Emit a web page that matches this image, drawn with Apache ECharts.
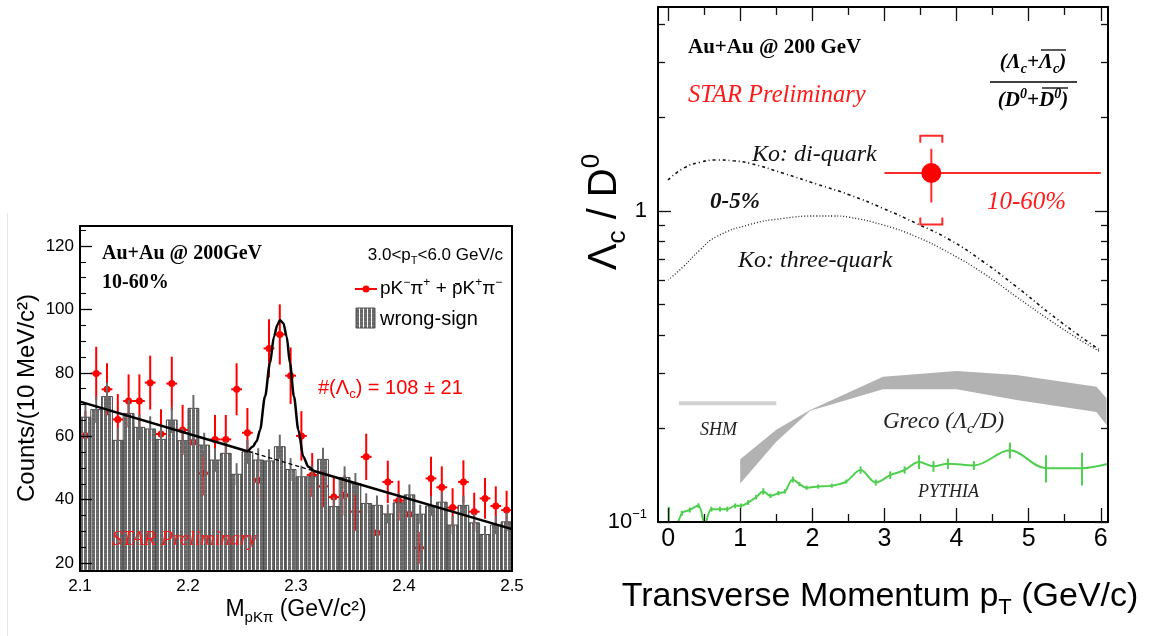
<!DOCTYPE html>
<html><head><meta charset="utf-8">
<script src="https://cdn.jsdelivr.net/npm/echarts@6/dist/echarts.min.js"></script>
<style>html,body{margin:0;padding:0;background:#fff}#c{width:1156px;height:636px}</style>
</head><body><div id="c"></div><script>
// ---------------- LEFT PANEL DATA ----------------
const massBins = [2.105,2.115,2.125,2.135,2.145,2.155,2.165,2.175,2.185,2.195,
                  2.205,2.215,2.225,2.235,2.245,2.255,2.265,2.275,2.285,2.295,
                  2.305,2.315,2.325,2.335,2.345,2.355,2.365,2.375,2.385,2.395,
                  2.405,2.415,2.425,2.435,2.445,2.455,2.465,2.475,2.485,2.495];
const binHalfWidth = 0.005;
const wrongSign = [66.0,68.4,72.5,58.7,67.2,62.8,62.3,59.0,65.1,58.6,
                   68.8,57.2,52.5,54.6,48.0,55.1,52.5,52.2,56.7,49.5,
                   47.2,47.2,52.7,37.8,47.0,45.0,38.8,38.2,35.5,39.0,
                   41.5,35.4,38.0,39.2,32.0,38.2,32.7,29.0,32.0,33.0];
const wrongSignErr = [4.2,4.2,4.4,3.9,4.2,4.0,4.0,3.9,4.1,3.9,
                      4.2,3.9,3.7,3.8,3.5,3.8,3.7,3.7,3.8,3.6,
                      3.5,3.5,3.7,3.1,3.5,3.4,3.2,3.1,3.0,3.2,
                      3.3,3.0,3.1,3.2,2.9,3.1,2.9,2.7,2.9,2.9];
const rightSign = [60.2,79.8,74.8,65.3,71.1,71.1,76.9,60.7,76.6,62.0,
                   58.1,48.3,59.0,59.0,74.8,61.1,46.1,87.7,92.1,79.1,
                   60.1,47.8,44.2,40.8,41.4,36.2,53.5,29.6,45.6,39.7,
                   35.4,24.8,46.7,43.9,37.5,45.6,36.2,40.4,38.0,36.7];
const rightSignErr = [7.8,8.4,8.2,8.0,8.4,8.4,8.5,7.8,8.5,7.9,
                      7.6,7.0,7.7,7.7,8.2,7.8,6.8,9.2,9.5,8.9,
                      7.8,6.9,6.6,6.4,6.4,6.0,7.3,5.4,6.7,6.3,
                      6.0,5.0,6.8,6.6,6.1,6.8,6.0,6.4,6.2,6.1];
// fit: linear background, gaussian peak between the two junction points
const fitBkgLeftMass   = [2.100,2.2558];
const fitBkgLeftCounts = [70.9,55.2];
const fitPeakMass   = [2.2558,2.2599,2.2636,2.2667,2.2713,2.2759,2.2796,2.2827,2.2852,2.2883,2.2914,2.2944,2.2981,2.3022,2.3068,2.3114,2.3160];
const fitPeakCounts = [55.2,56.7,58.5,62.0,72.5,83.0,91.4,95.1,96.6,95.6,91.4,83.0,72.5,62.0,53.5,50.4,49.1];
const fitBkgRightMass   = [2.3160,2.500];
const fitBkgRightCounts = [49.1,30.7];
const bkgMass   = [2.2558,2.3160];
const bkgCounts = [55.2,49.1];
const massTicks = [2.1,2.2,2.3,2.4,2.5];
const countTicks = [20,40,60,80,100,120];
const countMinor = [25,30,35,45,50,55,65,70,75,85,90,95,105,110,115,125];

// ---------------- RIGHT PANEL DATA ----------------
const koDiPt    = [0.0,0.21,0.44,0.67,0.90,1.14,1.60,2.06,2.52,2.98,3.44,3.91,4.37,4.83,5.29,5.75,5.99];
const koDiRatio = [1.258,1.372,1.434,1.459,1.451,1.423,1.322,1.221,1.126,1.020,0.913,0.807,0.687,0.571,0.469,0.390,0.357];
const koThreePt    = [0.0,0.21,0.44,0.67,1.14,1.60,2.06,2.29,2.52,2.98,3.44,3.91,4.37,4.83,5.29,5.75,5.99];
const koThreeRatio = [0.600,0.662,0.749,0.827,0.906,0.947,0.964,0.964,0.954,0.902,0.827,0.731,0.631,0.530,0.446,0.380,0.353];
const grecoPt   = [1.0,1.5,1.97,2.98,4.0,4.83,5.94,6.08];
const grecoHigh = [0.159,0.198,0.229,0.293,0.306,0.297,0.272,0.250];
const grecoLow  = [0.133,0.181,0.228,0.267,0.267,0.247,0.226,0.205];
const shmPt    = [0.15,1.5];
const shmRatio = [0.241,0.241];
const pythiaPt    = [0.01,0.19,0.30,0.42,0.51,0.60,0.72,0.82,0.93,1.01,1.11,1.22,1.32,1.42,1.53,1.62,1.73,1.82,1.92,2.08,2.27,2.47,2.67,2.88,3.08,3.28,3.48,3.68,3.88,4.24,4.74,5.24,5.74,6.09];
const pythiaRatio = [0.080,0.1066,0.1093,0.1129,0.0985,0.1100,0.1100,0.1100,0.1127,0.1127,0.1155,0.1202,0.1254,0.1214,0.1238,0.1254,0.1370,0.1325,0.1289,0.1300,0.1309,0.1349,0.1470,0.1340,0.1415,0.1470,0.1560,0.1510,0.1540,0.1520,0.1700,0.1490,0.1490,0.1536];
const pythiaErr   = [0.032,0.002,0.002,0.002,0.002,0.002,0.002,0.002,0.002,0.002,0.002,0.002,0.003,0.002,0.002,0.002,0.003,0.002,0.002,0.002,0.002,0.002,0.004,0.003,0.004,0.004,0.008,0.006,0.006,0.005,0.010,0.015,0.018,0];
const lcPt = [3.65], lcRatio = [1.325], lcPtLow = [3.0], lcPtHigh = [6.0], lcStat = [0.26], lcSys = [0.42];
const ptTicks = [0,1,2,3,4,5,6];
const ptMinor = [0.5,1.5,2.5,3.5,4.5,5.5];
const ratioTicks = [0.1,1];
const ratioMinor = [0.2,0.3,0.4,0.5,0.6,0.7,0.8,0.9,2,3,4];

// ---------------- STYLE ----------------
const SANS = 'Liberation Sans', SERIF = 'Liberation Serif';
const LEFT_YMIN = 17.5, LEFT_YMAX = 126.3;
const RED = '#ff0000';

function hatch(){
  const c = document.createElement('canvas'); c.width = 4; c.height = 4;
  const g = c.getContext('2d'); g.fillStyle = '#666666'; g.fillRect(0,0,3,4);
  g.fillStyle = 'rgba(140,140,140,0.5)'; g.fillRect(0,1,3,1);
  return c;
}
const hatchCanvas = hatch();

const chart = echarts.init(document.getElementById('c'), null, {renderer:'canvas'});
const blackLine = {color:'#000', width:2};
const tickLine = {color:'#111', width:1.3};
function tickAxis(extra){ return Object.assign({type:'value', splitLine:{show:false}, z:10}, extra); }

const xAxes = [
  tickAxis({gridIndex:0, min:2.1, max:2.5, position:'bottom',
    axisLine:{show:true,onZero:false,lineStyle:blackLine}, axisTick:{show:false},
    axisLabel:{customValues:massTicks, formatter:v=>v.toFixed(1), fontSize:17, fontFamily:SANS, color:'#000', margin:7}}),
  tickAxis({gridIndex:0, min:2.1, max:2.5, position:'top',
    axisLine:{show:true,onZero:false,lineStyle:blackLine}, axisTick:{show:false}, axisLabel:{show:false}}),
  tickAxis({gridIndex:1, min:-0.14, max:6.1, position:'bottom',
    axisLine:{show:true,onZero:false,lineStyle:blackLine},
    axisTick:{inside:true,length:14,customValues:ptTicks,lineStyle:tickLine},
    axisLabel:{customValues:ptTicks, fontSize:25, fontFamily:SANS, color:'#000', margin:5}}),
  tickAxis({gridIndex:1, min:-0.14, max:6.1, position:'bottom',
    axisLine:{show:false,onZero:false}, axisTick:{inside:true,length:8,customValues:ptMinor,lineStyle:tickLine}, axisLabel:{show:false}}),
  tickAxis({gridIndex:1, min:-0.14, max:6.1, position:'top',
    axisLine:{show:true,onZero:false,lineStyle:blackLine},
    axisTick:{inside:true,length:14,customValues:ptTicks,lineStyle:tickLine}, axisLabel:{show:false}}),
  tickAxis({gridIndex:1, min:-0.14, max:6.1, position:'top',
    axisLine:{show:false,onZero:false}, axisTick:{inside:true,length:8,customValues:ptMinor,lineStyle:tickLine}, axisLabel:{show:false}})
];
const logY = {type:'log', logBase:10, min:0.1, max:4.53};
const yAxes = [
  tickAxis({gridIndex:0, min:LEFT_YMIN, max:LEFT_YMAX, position:'left',
    axisLine:{show:true,onZero:false,lineStyle:blackLine},
    axisTick:{inside:true,length:12,customValues:countTicks,lineStyle:{color:'#000',width:1.3}},
    axisLabel:{customValues:countTicks, fontSize:17, fontFamily:SANS, color:'#000', margin:6}}),
  tickAxis({gridIndex:0, min:LEFT_YMIN, max:LEFT_YMAX, position:'left',
    axisLine:{show:false,onZero:false}, axisTick:{inside:true,length:6,customValues:countMinor,lineStyle:{color:'#000',width:1.1}}, axisLabel:{show:false}}),
  tickAxis({gridIndex:0, min:LEFT_YMIN, max:LEFT_YMAX, position:'right',
    axisLine:{show:true,onZero:false,lineStyle:blackLine}, axisTick:{show:false}, axisLabel:{show:false}}),
  tickAxis(Object.assign({gridIndex:1, position:'left',
    axisLine:{show:true,onZero:false,lineStyle:blackLine},
    axisTick:{inside:true,length:13,customValues:ratioTicks,lineStyle:tickLine},
    axisLabel:{customValues:ratioTicks, margin:11, color:'#000',
      formatter:v=> v < 0.5 ? '{a|10}{u|\u22121}' : '{a|1}',
      rich:{a:{fontSize:22,fontFamily:SANS,color:'#000',lineHeight:28},
            u:{fontSize:13,fontFamily:SANS,color:'#000',verticalAlign:'top',lineHeight:13}}}}, logY)),
  tickAxis(Object.assign({gridIndex:1, position:'left',
    axisLine:{show:false,onZero:false}, axisTick:{inside:true,length:7,customValues:ratioMinor,lineStyle:tickLine}, axisLabel:{show:false}}, logY)),
  tickAxis(Object.assign({gridIndex:1, position:'right',
    axisLine:{show:true,onZero:false,lineStyle:blackLine},
    axisTick:{inside:true,length:13,customValues:ratioTicks,lineStyle:tickLine}, axisLabel:{show:false}}, logY)),
  tickAxis(Object.assign({gridIndex:1, position:'right',
    axisLine:{show:false,onZero:false}, axisTick:{inside:true,length:7,customValues:ratioMinor,lineStyle:tickLine}, axisLabel:{show:false}}, logY))
];

// ------------- series -------------
const pairs = (xs, ys)=>xs.map((x,i)=>[x, ys[i]]);
const histData = massBins.map((m,i)=>[m, wrongSign[i], wrongSignErr[i]]);
const sigData  = massBins.map((m,i)=>[m, rightSign[i], rightSignErr[i]]);

function renderHist(params, api){
  const c = api.value(0), v = api.value(1), e = api.value(2);
  const pTop = api.coord([c - binHalfWidth, v]);
  const pBot = api.coord([c + binHalfWidth, LEFT_YMIN]);
  const eHi = api.coord([c, v + e]), eLo = api.coord([c, v - e]);
  return {type:'group', children:[
    {type:'rect', shape:{x:pTop[0], y:pTop[1], width:pBot[0]-pTop[0], height:pBot[1]-pTop[1]},
     style:{fill:{image:hatchCanvas, repeat:'repeat'}, stroke:'#4a4a4a', lineWidth:1}},
    {type:'line', shape:{x1:eHi[0], y1:eHi[1], x2:eLo[0], y2:eLo[1]}, style:{stroke:'#6a6a6a', lineWidth:2}}
  ]};
}
function renderSig(params, api){
  const c = api.value(0), v = api.value(1), e = api.value(2);
  const p = api.coord([c, v]);
  const hi = api.coord([c, v + e]), lo = api.coord([c, v - e]);
  const l = api.coord([c - binHalfWidth, v]), r = api.coord([c + binHalfWidth, v]);
  return {type:'group', children:[
    {type:'line', shape:{x1:hi[0],y1:hi[1],x2:lo[0],y2:lo[1]}, style:{stroke:RED, lineWidth:2}},
    {type:'line', shape:{x1:l[0],y1:l[1],x2:r[0],y2:r[1]}, style:{stroke:RED, lineWidth:2}},
    {type:'circle', shape:{cx:p[0], cy:p[1], r:3.5}, style:{fill:RED}}
  ]};
}
function renderGreco(params, api){
  const pts = [];
  for (let i=0;i<grecoPt.length;i++) pts.push(api.coord([grecoPt[i], grecoHigh[i]]));
  for (let i=grecoPt.length-1;i>=0;i--) pts.push(api.coord([grecoPt[i], grecoLow[i]]));
  return {type:'polygon', shape:{points:pts}, style:{fill:'#b2b2b2'}};
}
function renderPythiaErr(params, api){
  const c = api.value(0), v = api.value(1), e = api.value(2);
  if (!e) return null;
  const hi = api.coord([c, v + e]), lo = api.coord([c, Math.max(v - e, 0.05)]);
  return {type:'line', shape:{x1:hi[0],y1:hi[1],x2:lo[0],y2:lo[1]}, style:{stroke:'#4fcf4f', lineWidth:2}};
}
function renderLc(params, api){
  const c = api.value(0), v = api.value(1), xl = api.value(2), xh = api.value(3), st = api.value(4), sy = api.value(5);
  const p = api.coord([c, v]);
  const l = api.coord([xl, v]), r = api.coord([xh, v]);
  const sh = api.coord([c, v + st]), sl = api.coord([c, v - st]);
  const yh = api.coord([c, v + sy])[1], yl = api.coord([c, v - sy])[1];
  const w = 11, arm = 7;
  return {type:'group', children:[
    {type:'line', shape:{x1:l[0],y1:l[1],x2:r[0],y2:r[1]}, style:{stroke:'#ff2a2a', lineWidth:2}},
    {type:'line', shape:{x1:sh[0],y1:sh[1],x2:sl[0],y2:sl[1]}, style:{stroke:'#ff2a2a', lineWidth:2}},
    {type:'polyline', shape:{points:[[p[0]-w,yh+arm],[p[0]-w,yh],[p[0]+w,yh],[p[0]+w,yh+arm]]}, style:{stroke:'#ff2a2a', lineWidth:2, fill:null}},
    {type:'polyline', shape:{points:[[p[0]-w,yl-arm],[p[0]-w,yl],[p[0]+w,yl],[p[0]+w,yl-arm]]}, style:{stroke:'#ff2a2a', lineWidth:2, fill:null}},
    {type:'circle', shape:{cx:p[0], cy:p[1], r:10}, style:{fill:RED}}
  ]};
}
const fitStyle = {color:'#000', width:2.5};
const series = [
  {type:'custom', name:'signal', xAxisIndex:0, yAxisIndex:0, clip:true, z:2, renderItem:renderSig, data:sigData},
  {type:'custom', name:'wrong-sign', xAxisIndex:0, yAxisIndex:0, clip:true, z:3, renderItem:renderHist, data:histData},
  {type:'line', name:'bkg', xAxisIndex:0, yAxisIndex:0, data:pairs(bkgMass,bkgCounts), showSymbol:false, z:4,
   lineStyle:{color:'#000', width:1.3, type:[4,3]}},
  {type:'line', name:'fitL', xAxisIndex:0, yAxisIndex:0, data:pairs(fitBkgLeftMass,fitBkgLeftCounts), showSymbol:false, z:5, lineStyle:fitStyle},
  {type:'line', name:'fitP', xAxisIndex:0, yAxisIndex:0, data:pairs(fitPeakMass,fitPeakCounts), showSymbol:false, z:5, smooth:0.3, smoothMonotone:'x', lineStyle:fitStyle},
  {type:'line', name:'fitR', xAxisIndex:0, yAxisIndex:0, data:pairs(fitBkgRightMass,fitBkgRightCounts), showSymbol:false, z:5, lineStyle:fitStyle},
  // right
  {type:'custom', name:'greco', xAxisIndex:2, yAxisIndex:3, clip:true, z:2, renderItem:renderGreco, data:[[grecoPt[0], grecoLow[0]]]},
  {type:'line', name:'shm', xAxisIndex:2, yAxisIndex:3, data:pairs(shmPt,shmRatio), showSymbol:false, z:2,
   lineStyle:{color:'#d2d2d2', width:4}},
  {type:'line', name:'ko-di', xAxisIndex:2, yAxisIndex:3, data:pairs(koDiPt,koDiRatio), showSymbol:false, smooth:true, z:3,
   lineStyle:{color:'#111', width:1.6, type:[3,3,1,3]}},
  {type:'line', name:'ko-three', xAxisIndex:2, yAxisIndex:3, data:pairs(koThreePt,koThreeRatio), showSymbol:false, smooth:true, z:3,
   lineStyle:{color:'#222', width:1.3, type:[1,2]}},
  {type:'line', name:'pythia', xAxisIndex:2, yAxisIndex:3, data:pairs(pythiaPt,pythiaRatio), showSymbol:false, smooth:0.35, z:3,
   lineStyle:{color:'#4fcf4f', width:2}},
  {type:'custom', name:'pythia-err', xAxisIndex:2, yAxisIndex:3, clip:true, z:3, renderItem:renderPythiaErr,
   data:pythiaPt.map((p,i)=>[p, pythiaRatio[i], pythiaErr[i]])},
  {type:'custom', name:'lc', xAxisIndex:2, yAxisIndex:3, clip:true, z:6, renderItem:renderLc,
   data:lcPt.map((p,i)=>[p, lcRatio[i], lcPtLow[i], lcPtHigh[i], lcStat[i], lcSys[i]])}
];

// ------------- text -------------
function font(size, family, style, weight){ return {fontSize:size, fontFamily:family, fontStyle:style||'normal', fontWeight:weight||'normal'}; }
function T(x, y, text, st, align, extra){
  return Object.assign({type:'text', x:x, y:y, z:100,
    style:Object.assign({text:text, align:align||'left', verticalAlign:'middle'}, st)}, extra||{});
}
function R(size, family, color, style, weight){
  const m = Object.assign(font(size, family, style, weight), {fill:color, color:color, lineHeight:Math.round(size*1.3)});
  const s = Object.assign(font(Math.round(size*0.65), family, style, weight), {fill:color, color:color, verticalAlign:'bottom', lineHeight:Math.round(size*0.65)});
  const u = Object.assign(font(Math.round(size*0.65), family, style, weight), {fill:color, color:color, verticalAlign:'top', lineHeight:Math.round(size*0.65)});
  return {a:m, s:s, u:u};
}
const gl = (x1,y1,x2,y2,c,w)=>({type:'line', z:100, shape:{x1,y1,x2,y2}, style:{stroke:c, lineWidth:w}});

const graphics = [
  gl(7.5,213,7.5,636,'#e6e6e6',1),
  // left panel texts
  T(102,254,'Au+Au @ 200GeV', Object.assign(font(20,SERIF,'normal','bold'),{fill:'#000'})),
  T(102,283,'10-60%', Object.assign(font(20,SERIF,'normal','bold'),{fill:'#000'})),
  T(503,255,'{a|3.0<p}{s|T}{a|<6.0 GeV/c}', {rich:R(17,SANS,'#000')}, 'right'),
  gl(355,289,377,289,RED,2),
  {type:'circle', z:100, shape:{cx:366, cy:289, r:3.5}, style:{fill:RED}},
  T(380,289,'{a|pK}{u|\u2212}{a|\u03c0}{u|+}{a| + p\u0304K}{u|+}{a|\u03c0}{u|\u2212}', {rich:R(19,SANS,'#000')}),
  {type:'rect', z:100, shape:{x:356, y:308, width:19, height:20}, style:{fill:{image:hatchCanvas, repeat:'repeat'}, stroke:'#505050', lineWidth:1}},
  T(380,319,'wrong-sign', Object.assign(font(20,SANS),{fill:'#000'})),
  T(318,388,'{a|#(\u039b}{s|c}{a|) = 108 \u00b1 21}', {rich:R(20,SANS,RED)}),
  T(112,540,'STAR Preliminary', Object.assign(font(20,SERIF,'italic'),{fill:'#ff1a1a'})),
  T(296,610,'{a|M}{s|pK\u03c0}{a| (GeV/c\u00b2)}', {rich:R(23,SANS,'#000')}, 'center'),
  T(27,398,'Counts/(10 MeV/c\u00b2)', Object.assign(font(24,SANS),{fill:'#000'}), 'center', {rotation:Math.PI/2}),
  // right panel texts
  T(688,48,'Au+Au @ 200 GeV', Object.assign(font(21,SERIF,'normal','bold'),{fill:'#000'})),
  T(688,96,'STAR Preliminary', Object.assign(font(24.5,SERIF,'italic'),{fill:'#ff1a1a'})),
  T(1033,63,'{a|(\u039b}{s|c}{a|+\u039b}{s|c}{a|)}', {rich:R(21,SERIF,'#000','italic','bold')}, 'center'),
  gl(990,82,1077,82,'#000',1.5),
  T(1033,101,'{a|(D}{u|0}{a|+D}{u|0}{a|)}', {rich:R(21,SERIF,'#000','italic','bold')}, 'center'),
  gl(1041,50,1066,50,'#000',1.3),
  gl(1042,88,1068,88,'#000',1.3),
  T(752,155,'Ko: di-quark', Object.assign(font(24,SERIF,'italic'),{fill:'#111'})),
  T(710,202,'0-5%', Object.assign(font(23,SERIF,'italic','bold'),{fill:'#111'})),
  T(738,261,'Ko: three-quark', Object.assign(font(24,SERIF,'italic'),{fill:'#111'})),
  T(987,202,'10-60%', Object.assign(font(25,SERIF,'italic'),{fill:'#ff1a1a'})),
  T(883,422,'{a|Greco (\u039b}{s|c}{a|/D)}', {rich:R(23,SERIF,'#222','italic')}),
  T(700,430,'SHM', Object.assign(font(18,SERIF,'italic'),{fill:'#222'})),
  T(918,492,'PYTHIA', Object.assign(font(18,SERIF,'italic'),{fill:'#222'})),
  T(880,597,'{a|Transverse Momentum p}{s|T}{a| (GeV/c)}', {rich:R(34,SANS,'#000')}, 'center'),
  T(605,212,'{a|\u039b}{s|c}{a| / D}{u|0}', {rich:R(40,SANS,'#000')}, 'center', {rotation:Math.PI/2})
];

chart.setOption({
  animation:false,
  backgroundColor:'#fff',
  grid:[
    {left:80, top:226, width:432, height:345, containLabel:false},
    {left:658, top:7, width:450, height:515, containLabel:false}
  ],
  xAxis:xAxes, yAxis:yAxes, series:series,
  graphic:{elements:graphics}
});
</script></body></html>
